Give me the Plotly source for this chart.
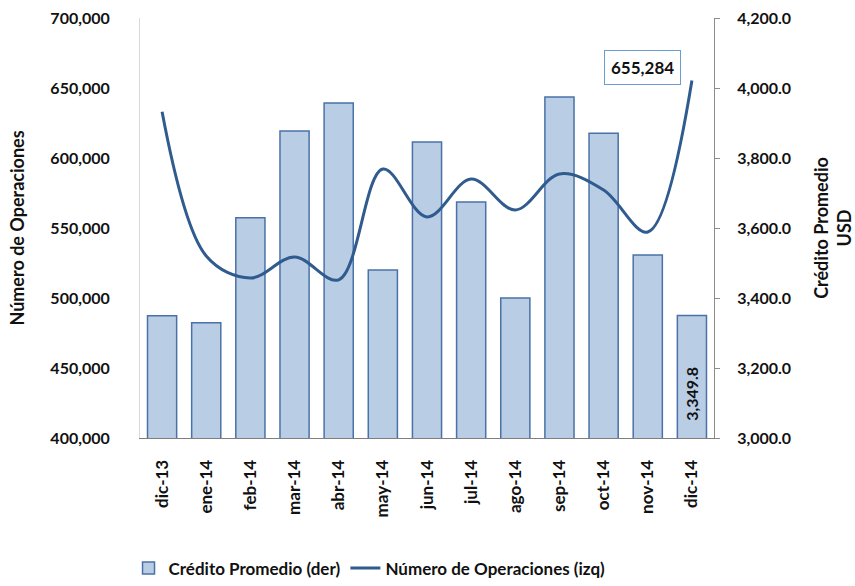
import plotly.graph_objects as go

categorias = ["dic-13", "ene-14", "feb-14", "mar-14", "abr-14", "may-14", "jun-14",
              "jul-14", "ago-14", "sep-14", "oct-14", "nov-14", "dic-14"]
credito_promedio = [3349, 3329, 3629, 3877, 3957, 3480, 3846, 3674, 3400, 3974, 3871, 3523, 3349.8]
numero_operaciones = [633000, 530000, 514300, 529300, 513000, 592100, 557900,
                      585000, 562900, 588600, 577100, 547100, 655284]
ticks_der = [3000, 3200, 3400, 3600, 3800, 4000, 4200]
ticks_izq = [400000, 450000, 500000, 550000, 600000, 650000, 700000]

FONT = "Lato"
TXT = "#111111"

fig = go.Figure()
fig.add_trace(go.Bar(
    x=categorias, y=credito_promedio, name="<b>Crédito Promedio (der)</b>",
    marker=dict(color="#B9CDE5", line=dict(color="#4A72A8", width=1.5)),
    yaxis="y",
))
fig.add_trace(go.Scatter(
    x=categorias, y=numero_operaciones, name="<b>Número de Operaciones (izq)</b>",
    mode="lines", line=dict(color="#2F5B8E", width=3, shape="spline", smoothing=1.0),
    yaxis="y2",
))

fig.update_layout(
    width=855, height=586,
    margin=dict(l=140, r=141, t=18, b=148, autoexpand=False),
    paper_bgcolor="white", plot_bgcolor="white",
    font=dict(family=FONT, size=14, color=TXT),
    bargap=0.34,
    showlegend=True,
    legend=dict(orientation="h", x=-0.02, xanchor="left", y=-0.268, yanchor="top",
                font=dict(size=17, family=FONT, color=TXT),
                traceorder="normal", tracegroupgap=0),
    xaxis=dict(
        type="category", tickangle=-90, showline=True, linecolor="#7F7F7F", linewidth=1,
        ticks="", automargin=False, ticklabelstandoff=14,
        tickvals=categorias, ticktext=["<b>%s</b>" % c for c in categorias],
        tickfont=dict(size=17, family=FONT, color=TXT),
        showgrid=False, zeroline=False,
    ),
    yaxis=dict(
        side="right", range=[3000, 4200], automargin=False,
        tickvals=ticks_der, ticktext=["<b>{:,.1f}</b>".format(v) for v in ticks_der],
        showline=True, linecolor="#8C8C8C", linewidth=1, ticks="outside", ticklen=5,
        tickcolor="#8C8C8C", showgrid=False, zeroline=False, ticklabelstandoff=14,
        tickfont=dict(size=16, family=FONT, color=TXT),
        title=dict(text="<b>Crédito Promedio<br>USD</b>", standoff=25,
                   font=dict(size=18, family=FONT, color=TXT)),
    ),
    yaxis2=dict(
        side="left", overlaying="y", range=[400000, 700000], automargin=False,
        tickvals=ticks_izq, ticktext=["<b>{:,.0f}</b>".format(v) for v in ticks_izq],
        showline=True, linecolor="#D9D9D9", linewidth=1, ticks="", showgrid=False,
        zeroline=False, ticklabelstandoff=26,
        tickfont=dict(size=16, family=FONT, color=TXT),
        title=dict(text="<b>Número de Operaciones</b>", standoff=21,
                   font=dict(size=18, family=FONT, color=TXT)),
    ),
)

fig.add_annotation(
    x=categorias[-1], y=numero_operaciones[-1], xref="x", yref="y2",
    text="<b>655,284</b>", showarrow=False, xshift=-49, yshift=13,
    font=dict(size=17, family=FONT, color=TXT),
    bordercolor="#6A9BD1", borderwidth=1, borderpad=6, bgcolor="white",
)
fig.add_annotation(
    x=categorias[-1], y=3126, xref="x", yref="y",
    text="<b>3,349.8</b>", showarrow=False, textangle=-90,
    font=dict(size=16, family=FONT, color=TXT),
)

fig.write_html("out.html", config={"displayModeBar": False},
               post_script="document.body.style.margin='0';")
